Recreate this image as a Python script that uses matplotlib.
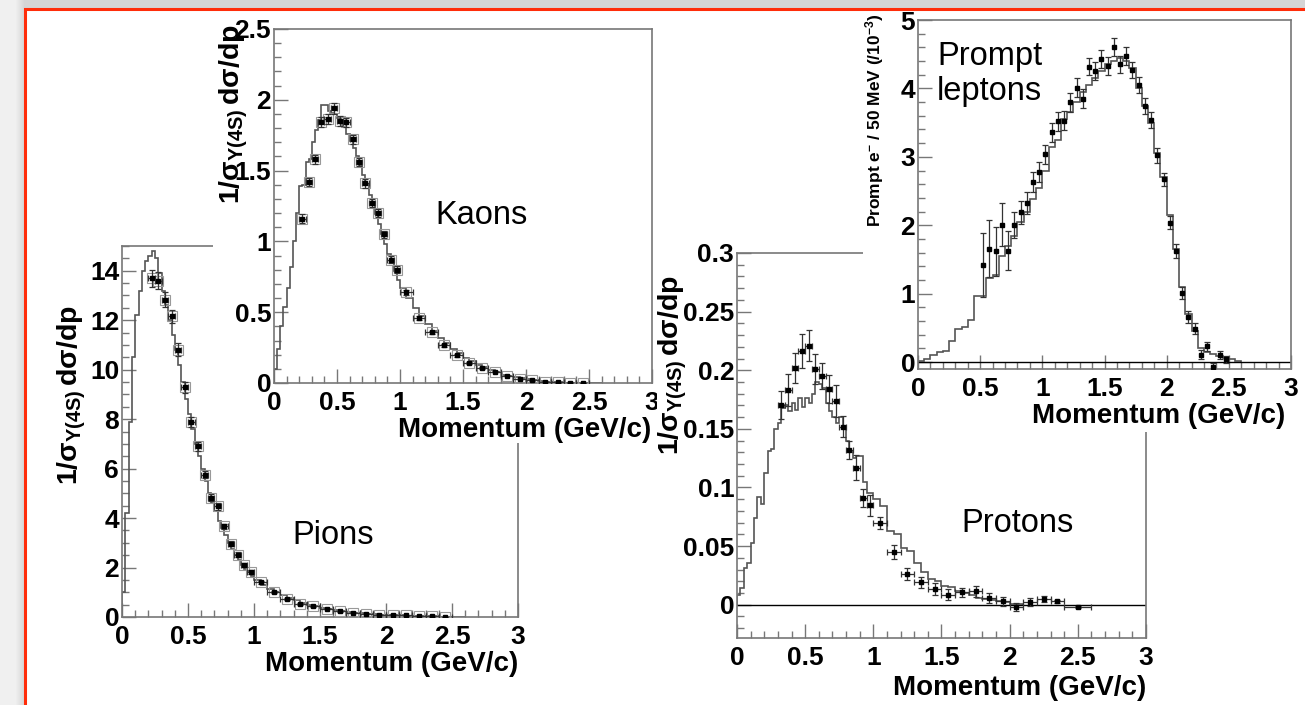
"""
Inclusive momentum spectra at the Upsilon(4S): pions, kaons, protons and
prompt leptons. Each panel overlays the measured points (with errors) on the
simulated histogram, laid out as overlapping ROOT-style canvases.
"""

import numpy as np
import matplotlib
matplotlib.use("Agg")
import matplotlib.pyplot as plt
from matplotlib.patches import Rectangle
from matplotlib.ticker import MultipleLocator, FuncFormatter

plt.rcParams["font.family"] = "Liberation Sans"
plt.rcParams["font.weight"] = "bold"
plt.rcParams["mathtext.fontset"] = "custom"
plt.rcParams["mathtext.rm"] = "Liberation Sans"
plt.rcParams["mathtext.bf"] = "Liberation Sans:bold"
plt.rcParams["mathtext.it"] = "Liberation Sans:italic"
plt.rcParams["mathtext.sf"] = "Liberation Sans"

W, H = 1305, 705

# ---- pions -----------------------------------------------------------------
PION_MC_FINE = [  # 0.025 GeV/c bins, 0 - 1.0
    1.0, 4.2, 7.9, 10.5, 12.2, 13.2, 14.0, 14.4, 14.6, 14.8,
    14.5, 13.9, 13.2, 12.6, 12.0, 11.4, 10.8, 10.2, 9.5, 8.8,
    8.2, 7.6, 7.0, 6.5, 6.0, 5.5, 5.0, 4.6, 4.3, 3.9,
    3.6, 3.3, 3.0, 2.75, 2.5, 2.3, 2.1, 1.95, 1.8, 1.65,
]
PION_MC_COARSE = [  # 0.05 GeV/c bins, 1.0 - 2.6
    1.5, 1.3, 1.15, 1.0, 0.88, 0.77, 0.67, 0.58, 0.5, 0.44,
    0.38, 0.33, 0.28, 0.24, 0.21, 0.18, 0.15, 0.13, 0.11, 0.1,
    0.09, 0.08, 0.07, 0.06, 0.05, 0.04, 0.035, 0.03, 0.02, 0.015,
    0.01, 0.005,
]
PION_P = [0.225, 0.275, 0.325, 0.375, 0.425, 0.475, 0.525, 0.575, 0.625,
          0.675, 0.725, 0.775, 0.825, 0.875, 0.925, 0.975,
          1.05, 1.15, 1.25, 1.35, 1.45, 1.55, 1.65, 1.75, 1.85, 1.95,
          2.05, 2.15, 2.25, 2.35, 2.45]
PION_Y = [13.69, 13.6, 12.83, 12.15, 10.8, 9.29, 7.9, 6.9, 5.76, 4.83,
          4.47, 3.66, 2.96, 2.52, 2.11, 1.82,
          1.41, 1.01, 0.74, 0.54, 0.43, 0.34, 0.23, 0.17, 0.13, 0.09,
          0.09, 0.07, 0.04, 0.03, 0.01]
PION_YERR = [0.35, 0.33, 0.3, 0.28, 0.26, 0.23, 0.2, 0.18, 0.16, 0.14,
             0.13, 0.12, 0.1, 0.09, 0.08, 0.07,
             0.06, 0.05, 0.04, 0.035, 0.03, 0.025, 0.02, 0.02, 0.015, 0.015,
             0.015, 0.01, 0.01, 0.01, 0.01]
PION_XERR = [0.025] * 16 + [0.05] * 15

# ---- kaons -----------------------------------------------------------------
KAON_MC_FINE = [
    0.1, 0.24, 0.4, 0.54, 0.67, 0.82, 1.0, 1.2, 1.39, 1.4,
    1.56, 1.58, 1.7, 1.79, 1.86, 1.96, 1.96, 1.92, 1.91, 1.9,
    1.87, 1.85, 1.81, 1.76, 1.71, 1.66, 1.6, 1.54, 1.47, 1.4,
    1.33, 1.26, 1.19, 1.12, 1.05, 0.98, 0.91, 0.85, 0.79, 0.73,
]
KAON_MC_COARSE = [
    0.67, 0.6, 0.53, 0.47, 0.42, 0.37, 0.32, 0.28, 0.24, 0.21,
    0.18, 0.155, 0.13, 0.11, 0.09, 0.075, 0.06, 0.05, 0.04, 0.032,
    0.025, 0.018, 0.013, 0.009, 0.006, 0.004, 0.003, 0.002, 0.001, 0.001,
    0.0005, 0.0,
]
KAON_P = PION_P
KAON_Y = [1.16, 1.42, 1.58, 1.846, 1.863, 1.94, 1.85, 1.84, 1.72, 1.56,
          1.41, 1.27, 1.2, 1.05, 0.87, 0.80,
          0.64, 0.46, 0.357, 0.266, 0.195, 0.141, 0.106, 0.08, 0.052, 0.028,
          0.019, 0.009, 0.005, 0.002, 0.0]
KAON_YERR = [0.03, 0.03, 0.03, 0.035, 0.035, 0.04, 0.035, 0.035, 0.03, 0.03,
             0.03, 0.03, 0.03, 0.025, 0.025, 0.025,
             0.02, 0.015, 0.012, 0.01, 0.008, 0.007, 0.006, 0.005, 0.004,
             0.003, 0.003, 0.002, 0.002, 0.002, 0.002]
KAON_XERR = PION_XERR

# ---- protons ---------------------------------------------------------------
PROTON_MC_FINE = [
    0.008, 0.014, 0.031, 0.036, 0.053, 0.074, 0.092, 0.086, 0.112, 0.131,
    0.133, 0.15, 0.155, 0.168, 0.17, 0.165, 0.172, 0.166, 0.176, 0.169,
    0.176, 0.172, 0.18, 0.19, 0.188, 0.185, 0.172, 0.165, 0.16, 0.155,
    0.16, 0.15, 0.14, 0.13, 0.125, 0.127, 0.127, 0.105, 0.095, 0.095,
]
PROTON_MC_COARSE = [
    0.09, 0.084, 0.063, 0.06, 0.048, 0.046, 0.036, 0.028, 0.022, 0.02,
    0.016, 0.015, 0.012, 0.01, 0.008, 0.006, 0.005, 0.004, 0.003, 0.002,
    0.001, 0.0005,
]
PROTON_P = [0.325, 0.375, 0.425, 0.475, 0.525, 0.575, 0.625, 0.675, 0.725,
            0.775, 0.825, 0.875, 0.925, 0.975,
            1.05, 1.15, 1.25, 1.35, 1.45, 1.55, 1.65, 1.75, 1.85, 1.95,
            2.05, 2.15, 2.25, 2.35, 2.5]
PROTON_Y = [0.170, 0.183, 0.202, 0.216, 0.221, 0.201, 0.195, 0.184, 0.174,
            0.152, 0.132, 0.117, 0.091, 0.085,
            0.070, 0.0446, 0.0264, 0.019, 0.0136, 0.0085, 0.0105, 0.0114,
            0.0057, 0.0028, -0.002, 0.002, 0.0048, 0.0028, -0.002]
PROTON_YERR = [0.012, 0.0135, 0.013, 0.0145, 0.013, 0.013, 0.011, 0.012,
               0.0135, 0.009, 0.008, 0.011, 0.008, 0.009,
               0.005, 0.006, 0.005, 0.005, 0.005, 0.0045, 0.004, 0.0045,
               0.004, 0.004, 0.0035, 0.0035, 0.0025, 0.0015, 0.001]
PROTON_XERR = [0.025] * 14 + [0.05] * 14 + [0.1]

# ---- prompt leptons (per 50 MeV, x 10^-3) ----------------------------------
LEPTON_MC = [  # 0.05 GeV/c bins, 0 - 2.6
    0.02, 0.05, 0.11, 0.15, 0.17, 0.31, 0.48, 0.51, 0.62, 0.97,
    0.97, 1.23, 1.27, 1.55, 1.7, 1.85, 2.05, 2.2, 2.38, 2.55,
    2.8, 3.15, 3.25, 3.55, 3.65, 3.8, 3.95, 4.05, 4.15, 4.25,
    4.35, 4.4, 4.45, 4.4, 4.3, 4.0, 3.75, 3.5, 3.05, 2.7,
    2.15, 1.65, 1.1, 0.7, 0.45, 0.2, 0.15, 0.12, 0.09, 0.06,
    0.04, 0.02,
]
LEPTON_P = [round(0.525 + 0.05 * i, 3) for i in range(40)]
LEPTON_Y = [1.415, 1.66, 1.62, 2.01, 1.63, 2.0, 2.19, 2.32, 2.63, 2.78,
            3.04, 3.36, 3.52, 3.53, 3.8, 4.01, 3.85, 4.32, 4.26, 4.43,
            4.33, 4.6, 4.35, 4.47, 4.27, 4.05, 3.74, 3.54, 3.02, 2.67,
            2.04, 1.62, 1.01, 0.66, 0.49, 0.11, 0.23, -0.07, 0.1, 0.04]
LEPTON_YERR = [0.47, 0.42, 0.36, 0.31, 0.28, 0.19, 0.17, 0.16, 0.15, 0.15,
               0.14, 0.14, 0.14, 0.14, 0.14, 0.14, 0.14, 0.13, 0.13, 0.13,
               0.13, 0.13, 0.13, 0.13, 0.12, 0.12, 0.12, 0.12, 0.11, 0.1,
               0.1, 0.1, 0.09, 0.09, 0.08, 0.07, 0.07, 0.06, 0.06, 0.05]

YLABEL = (r"$\mathbf{1/}\mathrm{\sigma}_{\mathrm{\Upsilon(4S)}}\,"
          r"\mathbf{d}\mathrm{\sigma}\mathbf{/dp}$")
LEPTON_YLABEL = r"Prompt e$^{-}$ / 50 MeV (/10$^{-3}$)"

FRAME_GREY = "#777777"
HIST_GREY = "#555555"
TICK_SIZE = 19
TITLE_SIZE = 20
YTITLE_SIZE = 20.5


def fig_rect(l, t, r, b):
    """Pixel box (left, top, right, bottom) -> figure fraction rect."""
    return [l / W, 1 - b / H, (r - l) / W, (b - t) / H]


def fig_xy(x, y):
    return x / W, 1 - y / H


def tick_fmt(v, _):
    v = round(v, 6)
    if v == 0:
        return "0"
    return f"{v:g}"


def mc_edges(n_fine, n_coarse, fine=0.025, coarse=0.05):
    fine_edges = np.arange(n_fine + 1) * fine
    coarse_edges = fine_edges[-1] + np.arange(1, n_coarse + 1) * coarse
    return np.concatenate([fine_edges, coarse_edges])


def add_panel(fig, box, ylim, ymajor, yminor, zorder):
    ax = fig.add_axes(fig_rect(*box), zorder=zorder)
    ax.set_xlim(0, 3)
    ax.set_ylim(*ylim)
    ax.xaxis.set_major_locator(MultipleLocator(0.5))
    ax.xaxis.set_minor_locator(MultipleLocator(0.1))
    ax.yaxis.set_major_locator(MultipleLocator(ymajor))
    ax.yaxis.set_minor_locator(MultipleLocator(yminor))
    ax.xaxis.set_major_formatter(FuncFormatter(tick_fmt))
    ax.yaxis.set_major_formatter(FuncFormatter(tick_fmt))
    ax.tick_params(which="both", direction="in", top=False, right=False,
                   color=FRAME_GREY, width=1.0, labelsize=TICK_SIZE,
                   labelcolor="black")
    ax.tick_params(which="major", length=10)
    ax.tick_params(which="minor", length=5)
    ax.tick_params(axis="x", pad=6)
    ax.tick_params(axis="y", pad=2)
    for sp in ax.spines.values():
        sp.set_color(FRAME_GREY)
        sp.set_linewidth(1.2)
    return ax


def draw_points(ax, x, y, yerr, xerr=None, boxed=False):
    if boxed:
        ax.plot(x, y, "s", ms=6.5, mfc="none", mec="#999999", mew=0.8,
                zorder=3)
    ax.errorbar(x, y, yerr=yerr, xerr=xerr, fmt="s", ms=3, mfc="black",
                mec="black", ecolor="#333333", elinewidth=0.9, capsize=2.2,
                capthick=0.9, zorder=4)


def occluder(fig, box, zorder):
    l, t, r, b = box
    fig.add_artist(Rectangle(fig_xy(l, b), (r - l) / W, (b - t) / H,
                             transform=fig.transFigure, facecolor="white",
                             edgecolor="none", zorder=zorder))


def fig_text(ax, x, y, s, **kw):
    fig = ax.figure
    ax.text(*fig_xy(x, y), s, transform=fig.transFigure, clip_on=False, **kw)


def main():
    fig = plt.figure(figsize=(W / 100, H / 100), dpi=100)
    fig.patch.set_facecolor("#f0f0f0")

    # slide frame with a soft shadow
    for i in range(1, 10):
        fig.add_artist(Rectangle(fig_xy(25 - i, 800), W, 800 - 9 + i,
                                 transform=fig.transFigure,
                                 facecolor="black", edgecolor="none",
                                 alpha=0.012, zorder=-3))
    fig.add_artist(Rectangle(fig_xy(25, 800), W, (800 - 9) / H,
                             transform=fig.transFigure, facecolor="white",
                             edgecolor="none", zorder=-2))
    fig.add_artist(Rectangle(fig_xy(25, 800), W, (800 - 9) / H,
                             transform=fig.transFigure, facecolor="none",
                             edgecolor="#ff2d0a", linewidth=2.2, zorder=20))

    # pions
    ax = add_panel(fig, (122, 246, 518, 617), (0, 15), 2, 0.5, 1)
    ax.stairs(PION_MC_FINE + PION_MC_COARSE,
              mc_edges(len(PION_MC_FINE), len(PION_MC_COARSE)),
              color=HIST_GREY, lw=1.2, zorder=2)
    draw_points(ax, PION_P, PION_Y, PION_YERR, PION_XERR, boxed=True)
    fig_text(ax, 72, 395, YLABEL, rotation=90, ha="center", va="center",
             fontsize=YTITLE_SIZE)
    fig_text(ax, 518, 664, "Momentum (GeV/c)", ha="right", va="center",
             fontsize=TITLE_SIZE)
    fig_text(ax, 333, 535, "Pions", ha="center", va="center", fontsize=23.5,
             fontweight="normal")

    # kaons
    occluder(fig, (213, 11, 657, 443), 2)
    ax = add_panel(fig, (274, 29, 652, 383), (0, 2.5), 0.5, 0.1, 3)
    ax.stairs(KAON_MC_FINE + KAON_MC_COARSE,
              mc_edges(len(KAON_MC_FINE), len(KAON_MC_COARSE)),
              color=HIST_GREY, lw=1.2, zorder=2)
    draw_points(ax, KAON_P, KAON_Y, KAON_YERR, KAON_XERR, boxed=True)
    fig_text(ax, 234, 114, YLABEL, rotation=90, ha="center", va="center",
             fontsize=YTITLE_SIZE)
    fig_text(ax, 651, 430, "Momentum (GeV/c)", ha="right", va="center",
             fontsize=TITLE_SIZE)
    fig_text(ax, 481, 215, "Kaons", ha="center", va="center", fontsize=23.5,
             fontweight="normal")

    # protons
    occluder(fig, (657, 245, 1165, 705), 4)
    ax = add_panel(fig, (737, 253, 1146, 638), (-0.0284, 0.3), 0.05, 0.01, 5)
    ax.stairs(PROTON_MC_FINE + PROTON_MC_COARSE,
              mc_edges(len(PROTON_MC_FINE), len(PROTON_MC_COARSE)),
              color=HIST_GREY, lw=1.2, zorder=2)
    ax.axhline(0, color="black", lw=1.0, zorder=2)
    draw_points(ax, PROTON_P, PROTON_Y, PROTON_YERR, PROTON_XERR)
    fig_text(ax, 673, 365, YLABEL, rotation=90, ha="center", va="center",
             fontsize=YTITLE_SIZE)
    fig_text(ax, 1146, 688, "Momentum (GeV/c)", ha="right", va="center",
             fontsize=TITLE_SIZE)
    fig_text(ax, 1017, 523, "Protons", ha="center", va="center",
             fontsize=23.5, fontweight="normal")

    # prompt leptons
    occluder(fig, (863, 11, W, 432), 6)
    ax = add_panel(fig, (918, 20, 1291, 369), (-0.1, 5), 1, 0.2, 7)
    edges = np.arange(len(LEPTON_MC) + 1) * 0.05
    ax.stairs(LEPTON_MC, edges, color=HIST_GREY, lw=1.2, zorder=2)
    ax.axhline(0, color="black", lw=1.0, zorder=2)
    draw_points(ax, LEPTON_P, LEPTON_Y, LEPTON_YERR)
    fig_text(ax, 875, 120, LEPTON_YLABEL, rotation=90, ha="center",
             va="center", fontsize=12.5)
    fig_text(ax, 1285, 416, "Momentum (GeV/c)", ha="right", va="center",
             fontsize=TITLE_SIZE)
    fig_text(ax, 937, 74, "Prompt\nleptons", ha="left", va="center",
             fontsize=23.5, fontweight="normal", linespacing=1.15)

    fig.savefig("out.png", dpi=100, facecolor=fig.get_facecolor())
    plt.close(fig)


if __name__ == "__main__":
    main()
